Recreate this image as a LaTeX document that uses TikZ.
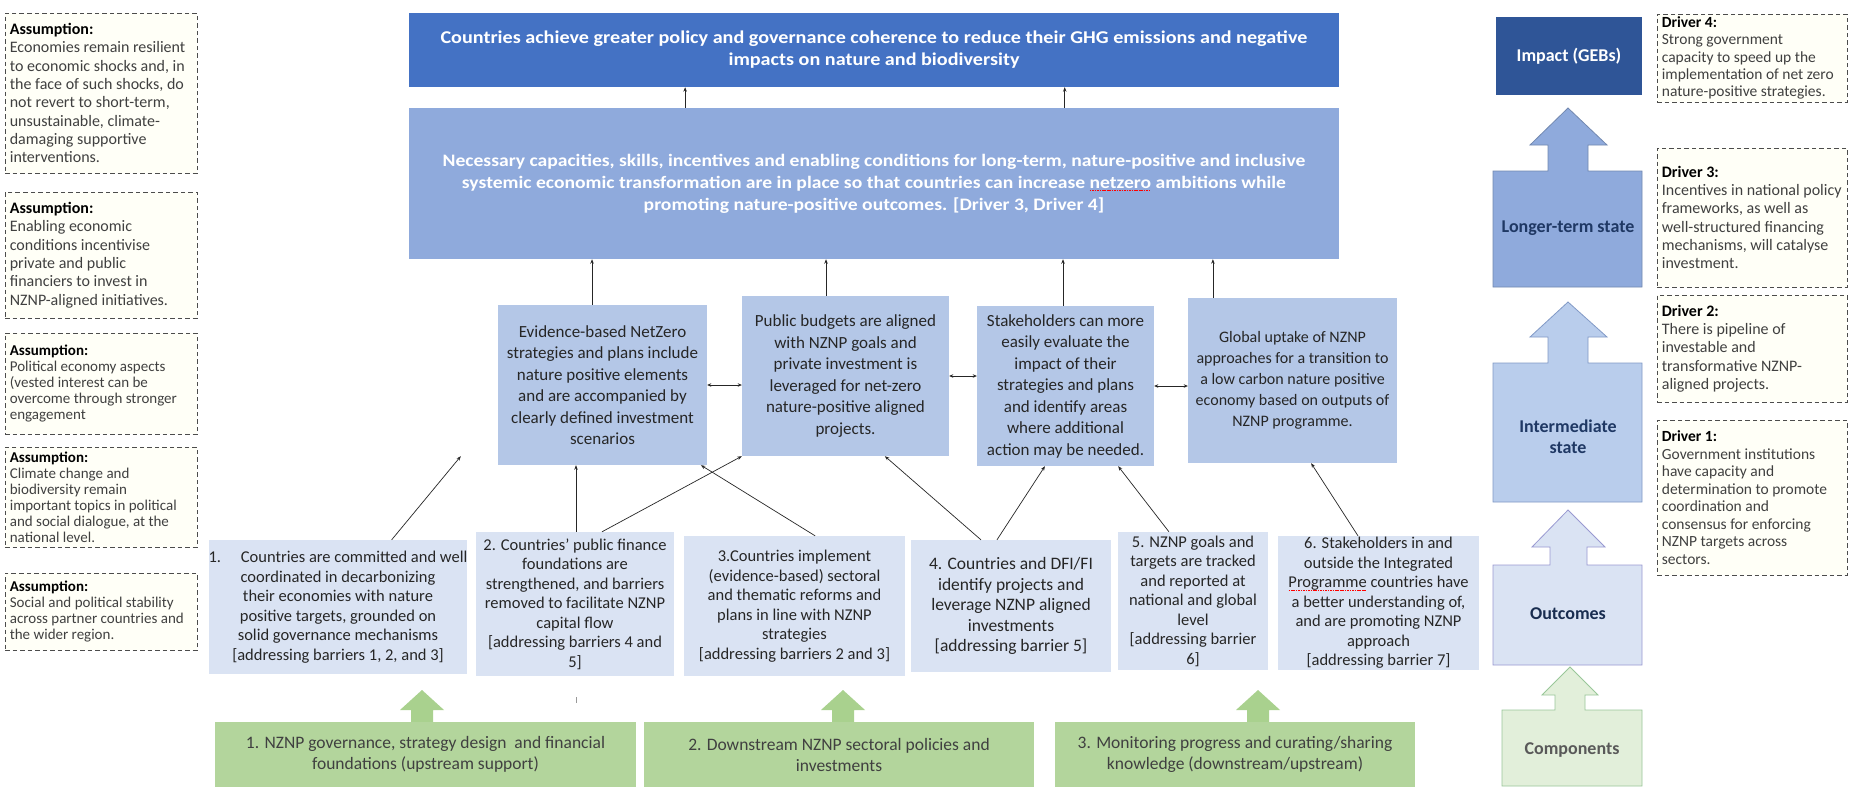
\documentclass[tikz,border=0pt]{standalone}
\usepackage{fontspec}
\setmainfont{Carlito}
\newfontfamily\widefam{Carlito}[FakeStretch=1.12]
\usetikzlibrary{arrows.meta,calc}
\definecolor{goalblue}{HTML}{4472C4}
\definecolor{capblue}{HTML}{8FAADC}
\definecolor{midblue}{HTML}{B4C7E7}
\definecolor{outblue}{HTML}{DAE3F3}
\definecolor{impblue}{HTML}{2F5597}
\definecolor{navy}{HTML}{1F3864}
\definecolor{intblue}{HTML}{B9CDEC}
\definecolor{garrow}{HTML}{A9D18E}
\definecolor{gboxc}{HTML}{B3D59C}
\definecolor{compgreen}{HTML}{E2EFDA}
\definecolor{darktxt}{HTML}{262626}
\definecolor{graytxt}{HTML}{404040}
\newcommand\redsquig[1]{\setbox0=\hbox{#1}\rlap{\textcolor{red}{\hbox to \wd0{\xleaders\hbox{\rule[-2.5pt]{1.6pt}{0.8pt}\kern0.8pt}\hfil}}}\box0\relax}
\begin{document}
\begin{tikzpicture}[x=1pt,y=-1pt,
  every node/.style={inner sep=0pt},
  note/.style={draw=black!70, dash pattern=on 4.5pt off 3pt, line width=0.7pt, fill=yellow!3},
  notetext/.style={anchor=west, align=left, text=graytxt},
  notefont/.style={font=\fontsize{16}{18.3}\selectfont},
  notefontsm/.style={font=\fontsize{15}{16}\selectfont},
  goalbox/.style={fill=goalblue},
  capbox/.style={fill=capblue},
  midbox/.style={fill=midblue, align=center, text=darktxt, font=\fontsize{17}{21.5}\selectfont},
  outbox/.style={fill=outblue, align=center, text=darktxt, font=\fontsize{16.5}{19.5}\selectfont},
  compbox/.style={fill=gboxc, align=center, text=graytxt, font=\fontsize{17.5}{21}\selectfont},
  conn/.style={draw=black!85, line width=0.7pt, -{Stealth[length=4.5pt,width=3.5pt]}},
  dbl/.style={draw=black!85, line width=0.8pt, {Stealth[length=4pt,width=3.5pt]}-{Stealth[length=4pt,width=3.5pt]}},
  levlabel/.style={font=\bfseries\fontsize{18}{21}\selectfont, align=center},
]
\useasboundingbox (0,0) rectangle (1853,788);
\fill[white] (0,0) rectangle (1853,788);

% ---------- assumptions ----------
\node[note, minimum width=192pt, minimum height=160pt] (a1) at (101,93) {};
\node[notetext, notefont] (a1t) at ($(a1.west)+(5,0)$)
 {\textcolor{black}{\textbf{Assumption:}}\\Economies remain resilient\\to economic shocks and, in\\the face of such shocks, do\\not revert to short-term,\\unsustainable, climate-\\damaging supportive\\interventions.};
\node[note, minimum width=192pt, minimum height=126pt] (a2) at (101,255) {};
\node[notetext, notefont] (a2t) at ($(a2.west)+(5,0)$)
 {\textcolor{black}{\textbf{Assumption:}}\\Enabling economic\\conditions incentivise\\private and public\\financiers to invest in\\NZNP-aligned initiatives.};
\node[note, minimum width=192pt, minimum height=101pt] (a3) at (101,383.5) {};
\node[notetext, notefontsm] (a3t) at ($(a3.west)+(5,0)$)
 {\textcolor{black}{\textbf{Assumption:}}\\Political economy aspects\\(vested interest can be\\overcome through stronger\\engagement};
\node[note, minimum width=192pt, minimum height=100pt] (a4) at (101,497) {};
\node[notetext, notefontsm] (a4t) at ($(a4.west)+(5,0)$)
 {\textcolor{black}{\textbf{Assumption:}}\\Climate change and\\biodiversity remain\\important topics in political\\and social dialogue, at the\\national level.};
\node[note, minimum width=192pt, minimum height=77pt] (a5) at (101,611.5) {};
\node[notetext, notefontsm] (a5t) at ($(a5.west)+(5,0)$)
 {\textcolor{black}{\textbf{Assumption:}}\\Social and political stability\\across partner countries and\\the wider region.};

% ---------- drivers ----------
\node[note, minimum width=190pt, minimum height=88pt] (d4) at (1752,58) {};
\node[notetext, font=\fontsize{15.5}{17.3}\selectfont] (d4t) at ($(d4.west)+(5,0)$)
 {\textcolor{black}{\textbf{Driver 4:}}\\Strong government\\capacity to speed up the\\implementation of net zero\\nature-positive strategies.};
\node[note, minimum width=190pt, minimum height=139pt] (d3) at (1752,217.5) {};
\node[notetext, notefont] (d3t) at ($(d3.west)+(5,0)$)
 {\textcolor{black}{\textbf{Driver 3:}}\\Incentives in national policy\\frameworks, as well as\\well-structured financing\\mechanisms, will catalyse\\investment.};
\node[note, minimum width=190pt, minimum height=107pt] (d2) at (1752,348.5) {};
\node[notetext, notefont] (d2t) at ($(d2.west)+(5,0)$)
 {\textcolor{black}{\textbf{Driver 2:}}\\There is pipeline of\\investable and\\transformative NZNP-\\aligned projects.};
\node[note, minimum width=190pt, minimum height=155pt] (d1) at (1752,497.5) {};
\node[notetext, font=\fontsize{15.5}{17.5}\selectfont] (d1t) at ($(d1.west)+(5,0)$)
 {\textcolor{black}{\textbf{Driver 1:}}\\Government institutions\\have capacity and\\determination to promote\\coordination and\\consensus for enforcing\\NZNP targets across\\sectors.};

% ---------- goal and long-term boxes ----------
\node[goalbox, minimum width=930pt, minimum height=74pt] (goal) at (874,50) {};
\node[text=white, font=\widefam\bfseries\fontsize{18}{22}\selectfont, align=center] (goaltext) at (874,50)
 {Countries achieve greater policy and governance coherence to reduce their GHG emissions and negative\\impacts on nature and biodiversity};
\node[capbox, minimum width=930pt, minimum height=151pt] (cap) at (874,183.5) {};
\node[text=white, font=\widefam\bfseries\fontsize{17.5}{22}\selectfont, align=center] (captext) at (874,184)
 {Necessary capacities, skills, incentives and enabling conditions for long-term, nature-positive and inclusive\\systemic economic transformation are in place so that countries can increase \redsquig{netzero} ambitions while\\promoting nature-positive outcomes. [Driver 3, Driver 4]};

% ---------- intermediate boxes ----------
\node[midbox, minimum width=209pt, minimum height=160pt] (ev) at (602.5,385)
 {Evidence-based NetZero\\strategies and plans include\\nature positive elements\\and are accompanied by\\clearly defined investment\\scenarios};
\node[midbox, minimum width=207pt, minimum height=160pt] (pub) at (845.5,376)
 {Public budgets are aligned\\with NZNP goals and\\private investment is\\leveraged for net-zero\\nature-positive aligned\\projects.};
\node[midbox, minimum width=177pt, minimum height=160pt] (stk) at (1065.5,386)
 {Stakeholders can more\\easily evaluate the\\impact of their\\strategies and plans\\and identify areas\\where additional\\action may be needed.};
\node[midbox, font=\fontsize{16}{21}\selectfont, minimum width=209pt, minimum height=165pt] (glo) at (1292.5,380.5)
 {Global uptake of NZNP\\approaches for a transition to\\a low carbon nature positive\\economy based on outputs of\\NZNP programme.};

% ---------- outcome boxes ----------
\node[outbox, minimum width=256pt, minimum height=134pt] (b1) at (338,607)
 {1.\hspace{1.2em}Countries are committed and well\\coordinated in decarbonizing\\their economies with nature\\positive targets, grounded on\\solid governance mechanisms\\{[addressing barriers 1, 2, and 3]}};
\node[outbox, minimum width=198pt, minimum height=144pt] (b2) at (575,604)
 {2. Countries' public finance\\foundations are\\strengthened, and barriers\\removed to facilitate NZNP\\capital flow\\{[addressing barriers 4 and}\\5]};
\node[outbox, minimum width=221pt, minimum height=140pt] (b3) at (794.5,606)
 {3.Countries implement\\(evidence-based) sectoral\\and thematic reforms and\\plans in line with NZNP\\strategies\\{[addressing barriers 2 and 3]}};
\node[outbox, font=\fontsize{17.5}{20.5}\selectfont, minimum width=200pt, minimum height=132pt] (b4) at (1011,606)
 {4. Countries and DFI/FI\\identify projects and\\leverage NZNP aligned\\investments\\{[addressing barrier 5]}};
\node[outbox, minimum width=150pt, minimum height=138pt] (b5) at (1193,601)
 {5. NZNP goals and\\targets are tracked\\and reported at\\national and global\\level\\{[addressing barrier}\\6]};
\node[outbox, minimum width=201pt, minimum height=134pt] (b6) at (1378.5,603)
 {6. Stakeholders in and\\outside the Integrated\\\redsquig{Programme} countries have\\a better understanding of,\\and are promoting NZNP\\approach\\{[addressing barrier 7]}};

% ---------- components ----------
\foreach \cx in {422,843,1258}{
  \fill[garrow] (\cx-11,723) -- (\cx-11,710) -- (\cx-22,710) -- (\cx,690) -- (\cx+22,710) -- (\cx+11,710) -- (\cx+11,723) -- cycle;
}
\node[compbox, minimum width=421pt, minimum height=65pt] (g1) at (425.5,754.5)
 {1. NZNP governance, strategy design\ \ and financial\\foundations (upstream support)};
\node[compbox, minimum width=390pt, minimum height=65pt] (g2) at (839,754.5)
 {2. Downstream NZNP sectoral policies and\\investments};
\node[compbox, minimum width=360pt, minimum height=65pt] (g3) at (1235,754.5)
 {3. Monitoring progress and curating/sharing\\knowledge (downstream/upstream)};
\draw[black!40, line width=0.6pt] (576,697) -- (576,703);

% ---------- connectors ----------
\draw[conn] ($(cap.north west)!0.297!(cap.north east)$) coordinate (u1) -- (u1 |- goal.south);
\draw[conn] ($(cap.north west)!0.705!(cap.north east)$) coordinate (u2) -- (u2 |- goal.south);
\draw[conn] ($(ev.north west)!0.45!(ev.north east)$) coordinate (v1) -- (v1 |- cap.south);
\draw[conn] ($(pub.north west)!0.406!(pub.north east)$) coordinate (v2) -- (v2 |- cap.south);
\draw[conn] ($(stk.north west)!0.486!(stk.north east)$) coordinate (v3) -- (v3 |- cap.south);
\draw[conn] ($(glo.north west)!0.12!(glo.north east)$) coordinate (v4) -- (v4 |- cap.south);
\draw[dbl] (ev.east) -- (ev.east -| pub.west);
\draw[dbl] (pub.east) -- (pub.east -| stk.west);
\draw[dbl] (stk.east) -- (stk.east -| glo.west);
\draw[conn] ($(b1.north west)!0.707!(b1.north east)$) -- ($(ev.south west)+(-37,-9)$);
\draw[conn] ($(b2.north west)!0.505!(b2.north east)$) coordinate (w1) -- (w1 |- ev.south);
\draw[conn] ($(b2.north west)!0.636!(b2.north east)$) -- (pub.south west);
\draw[conn] ($(b3.north west)!0.593!(b3.north east)$) -- ($(ev.south west)!0.97!(ev.south east)$);
\draw[conn] ($(b4.north west)!0.35!(b4.north east)$) -- ($(pub.south west)!0.69!(pub.south east)$);
\draw[conn] ($(b4.north west)!0.43!(b4.north east)$) -- ($(stk.south west)!0.384!(stk.south east)$);
\draw[conn] ($(b5.north west)!0.34!(b5.north east)$) -- ($(stk.south west)!0.797!(stk.south east)$);
\draw[conn] ($(b6.north west)!0.398!(b6.north east)$) -- ($(glo.south west)!0.589!(glo.south east)$);

% ---------- right-hand level column ----------
\node[fill=impblue, minimum width=146pt, minimum height=78pt, text=white, levlabel] (imp) at (1569,56) {Impact (GEBs)};
\draw[draw=capblue!80!black, fill=capblue, line width=0.8pt]
  (1493,287) -- (1493,171) -- (1548,171) -- (1548,145) -- (1530,145) -- (1568,108) -- (1607,145) -- (1588,145) -- (1588,171) -- (1642,171) -- (1642,287) -- cycle;
\node[levlabel, text=navy] (lts) at (1568,228) {Longer-term state};
\draw[draw=capblue!90!black, fill=intblue, line width=0.8pt]
  (1493,502) -- (1493,363) -- (1548,363) -- (1548,337) -- (1530,337) -- (1568,302) -- (1607,337) -- (1588,337) -- (1588,363) -- (1642,363) -- (1642,502) -- cycle;
\node[levlabel, text=navy] (ims) at (1568,437) {Intermediate\\state};
\draw[draw=black!45!blue!40, fill=outblue, line width=0.8pt]
  (1493,665) -- (1493,565) -- (1550,565) -- (1550,547) -- (1532,547) -- (1568,510) -- (1605,547) -- (1587,547) -- (1587,565) -- (1642,565) -- (1642,665) -- cycle;
\node[levlabel, text=navy!80!black] (outl) at (1568,614) {Outcomes};
\draw[draw=black!55!green!40, fill=compgreen, line width=0.8pt]
  (1502,786) -- (1502,710) -- (1555,710) -- (1555,695) -- (1542,695) -- (1570,667) -- (1598,695) -- (1585,695) -- (1585,710) -- (1642,710) -- (1642,786) -- cycle;
\node[levlabel, text=black!65] (compl) at (1572,750) {Components};
\end{tikzpicture}
\end{document}
